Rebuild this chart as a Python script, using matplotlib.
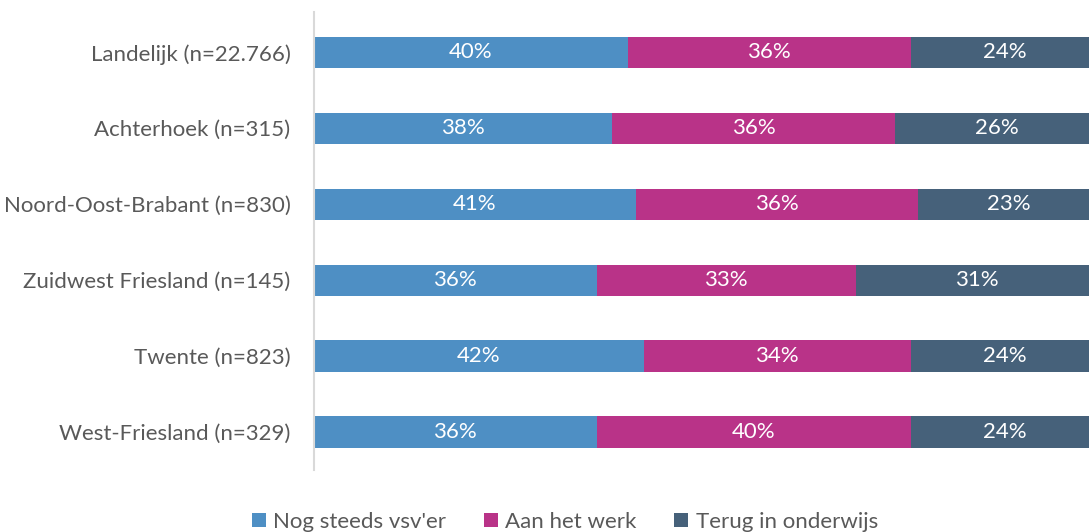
import matplotlib.pyplot as plt
import numpy as np

regios = ['Landelijk (n=22.766)', 'Achterhoek (n=315)', 'Noord-Oost-Brabant (n=830)',
          'Zuidwest Friesland (n=145)', 'Twente (n=823)', 'West-Friesland (n=329)']
vsv = [40, 38, 41, 36, 42, 36]
werk = [36, 36, 36, 33, 34, 40]
onderwijs = [24, 26, 23, 31, 24, 24]

series = ["Nog steeds vsv'er", 'Aan het werk', 'Terug in onderwijs']
kleuren = ['#4E8FC4', '#B93388', '#46617A']
grijs = '#595959'

plt.rcParams['font.family'] = ['Lato', 'DejaVu Sans']

fig = plt.figure(figsize=(10.89, 5.32), dpi=100)
ax = fig.add_axes([314 / 1089, 1 - 470 / 532, 785 / 1089, 458 / 532])

y = np.arange(len(regios))
links = np.zeros(len(regios))
for naam, waarden, kleur in zip(series, [vsv, werk, onderwijs], kleuren):
    waarden = np.array(waarden)
    ax.barh(y, waarden, left=links, height=0.41, color=kleur, label=naam)
    for yi, l, w in zip(y, links, waarden):
        ax.text(l + w / 2, yi, f'{w}%', ha='center', va='center', color='white', fontsize=16)
    links = links + waarden

ax.set_xlim(0, 100)
ax.set_ylim(5.5, -0.53)
ax.set_yticks(y)
ax.set_yticklabels(regios, fontsize=16, color=grijs)
ax.tick_params(axis='y', length=0, pad=17)
ax.set_xticks([])
for s in ['top', 'right', 'bottom']:
    ax.spines[s].set_visible(False)
ax.spines['left'].set_color('#D9D9D9')
ax.spines['left'].set_linewidth(1.5)

fig.legend(loc='center', bbox_to_anchor=(565 / 1089, 1 - 522 / 532), ncol=3, frameon=False,
           fontsize=16, labelcolor=grijs, handlelength=0.63, handleheight=0.63,
           handletextpad=0.32, columnspacing=1.7)

fig.savefig('out.png', dpi=100)
